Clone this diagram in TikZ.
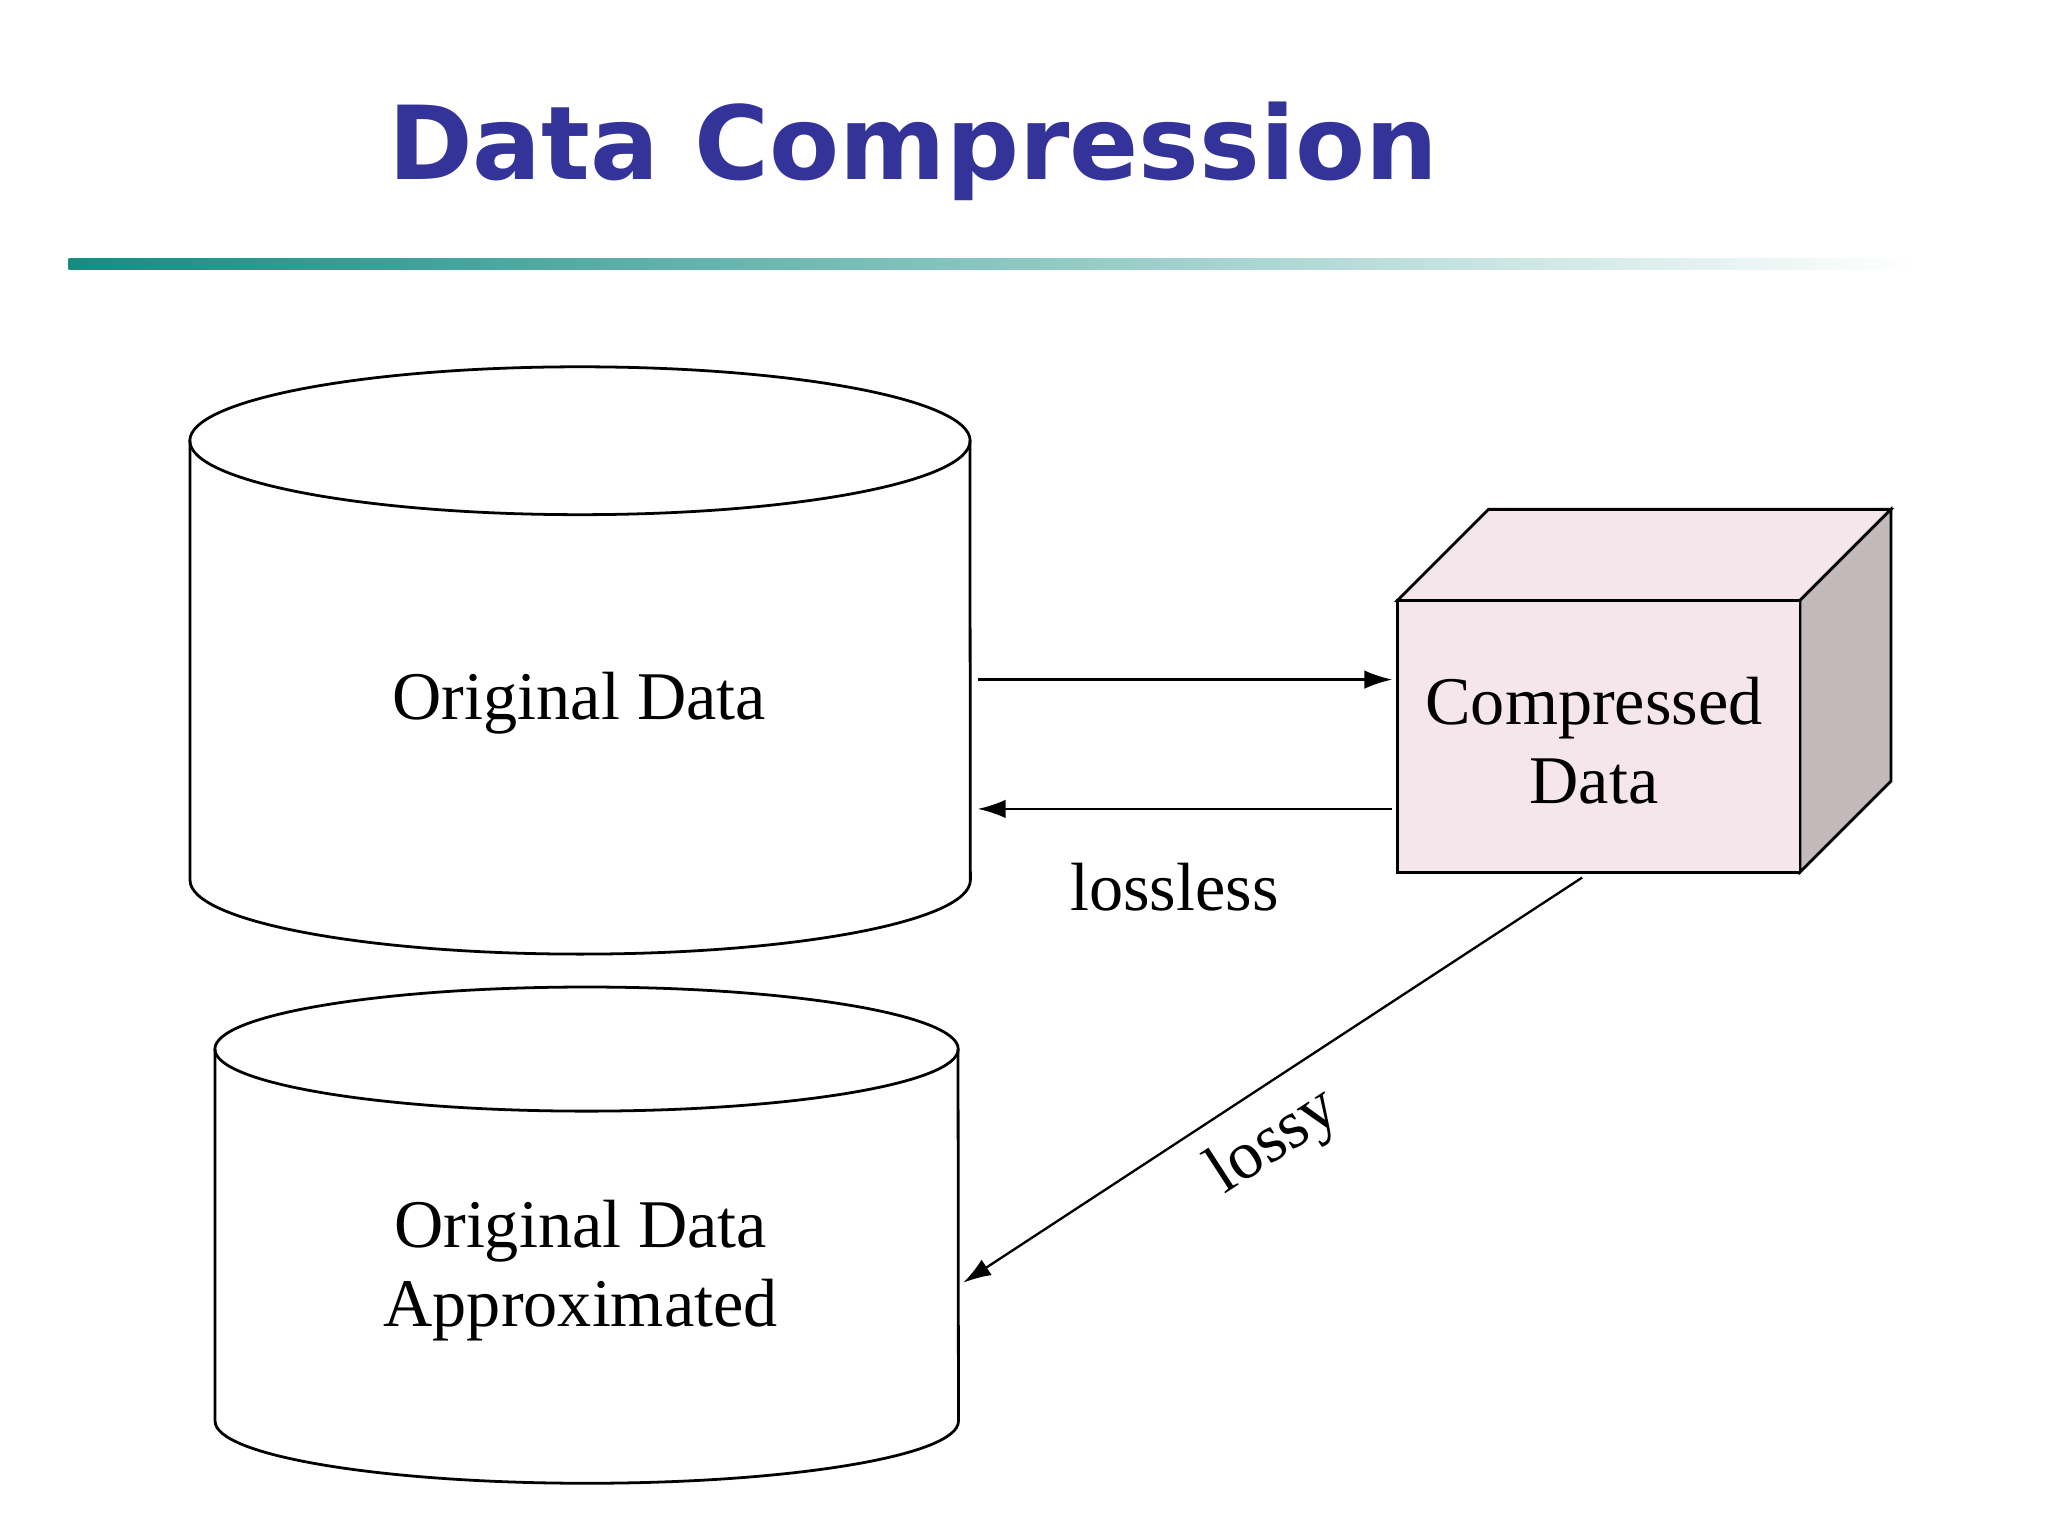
\documentclass[tikz,border=0pt]{standalone}
\usepackage{fontspec}
\setmainfont{Liberation Serif}
\newfontfamily\titlefont{DejaVu Sans}
\usetikzlibrary{arrows.meta}
\definecolor{titleblue}{RGB}{51,51,153}
\definecolor{rulegreen}{RGB}{20,140,130}
\definecolor{boxpink}{RGB}{245,230,235}
\definecolor{boxside}{RGB}{195,185,187}
\tikzset{
  lbl/.style={font=\fontsize{14.7}{18}\selectfont,align=center},
  flow/.style={-{Latex[length=6pt,width=4pt]},line width=0.5pt},
  outline/.style={line width=0.6pt}
}
\begin{document}
\begin{tikzpicture}[x=0.01cm,y=-0.01cm]
  \useasboundingbox (0,0) rectangle (1552,1164);
  % title and rule
  \node[text=titleblue,font=\titlefont\bfseries\fontsize{22}{26}\selectfont] (title) at (692,115) {Data Compression};
  \shade[left color=rulegreen,right color=white] (52,196) rectangle (1450,204);
  % first cylinder
  \draw[outline] (144,334) -- (144,667) arc[start angle=180,end angle=360,x radius=2.955cm,y radius=0.56cm] -- (735,334);
  \draw[outline] (439.5,334) ellipse[x radius=2.955cm,y radius=0.56cm];
  \node[lbl] (orig) at (439,533) {Original Data};
  % second cylinder
  \draw[outline] (163,795) -- (163,1077) arc[start angle=180,end angle=360,x radius=2.815cm,y radius=0.47cm] -- (726,795);
  \draw[outline] (444.5,795) ellipse[x radius=2.815cm,y radius=0.47cm];
  \node[lbl] (approx) at (440,963) {Original Data\\[-1pt]Approximated};
  % cube
  \draw[outline,fill=boxpink] (1059,455) -- (1128,386) -- (1433,386) -- (1364,455) -- cycle;
  \draw[outline,fill=boxside] (1364,455) -- (1433,386) -- (1433,592) -- (1364,661) -- cycle;
  \draw[outline,fill=boxpink] (1059,455) rectangle (1364,661);
  \node[lbl] (comp) at (1208,561) {Compressed\\[-1pt]Data};
  % connectors
  \coordinate (a1) at (741,515); \coordinate (b1) at (1055,515);
  \coordinate (a2) at (1055,613); \coordinate (b2) at (741,613);
  \coordinate (c1) at (1199,665); \coordinate (c2) at (730,972);
  \draw[flow] (a1) -- (b1);
  \draw[flow] (a2) -- (b2);
  \draw[flow] (c1) -- (c2);
  \node[lbl] (lossless) at (890,672) {lossless};
  \node[lbl,rotate=33] (lossy) at (966,866) {lossy};
\end{tikzpicture}
\end{document}
